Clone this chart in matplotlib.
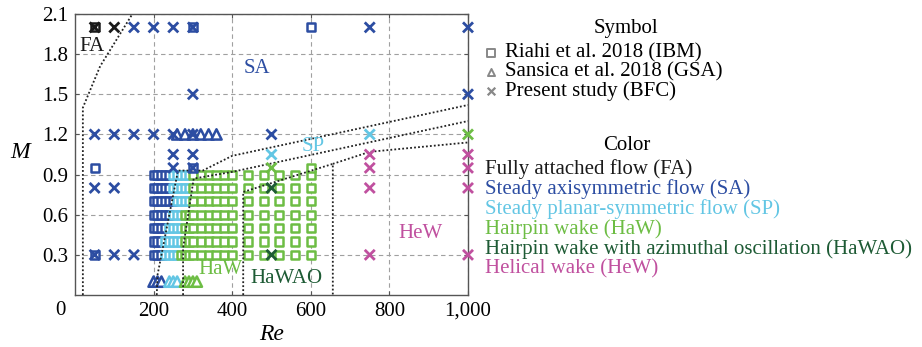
import numpy as np
import matplotlib.pyplot as plt

plt.rcParams['font.family'] = ['Liberation Serif', 'DejaVu Serif']

# regime colours
colors = {'FA': '#1a1a1a', 'SA': '#2c4da2', 'SP': '#63c6e4', 'HaW': '#6dbd44',
          'HaWAO': '#1e5b35', 'HeW': '#c0509f'}

# Riahi et al. 2018 (IBM): dense grid of Re x M
riahi_re = [200, 210, 220, 230, 240, 250, 260, 270, 280, 290, 300,
            320, 340, 360, 380, 400, 440, 480, 520, 560, 600]
riahi_m = [0.3, 0.4, 0.5, 0.6, 0.7, 0.8, 0.9]
# first Re of each row that is planar-symmetric / hairpin
riahi_sp_from = [230, 230, 240, 250, 260, 250, 250]
riahi_haw_from = [270, 280, 280, 280, 300, 300, 300]
# isolated Riahi points
riahi_extra_re = [50, 50, 50, 300, 300, 600, 600]
riahi_extra_m = [2.0, 0.95, 0.3, 2.0, 0.95, 2.0, 0.95]
riahi_extra_reg = ['FA', 'SA', 'SA', 'SA', 'SA', 'SA', 'HaW']

# Sansica et al. 2018 (GSA)
sansica_re = [200, 210, 220, 240, 250, 260, 280, 290, 300, 310,
              260, 280, 300, 320, 340, 360]
sansica_m = [0.1] * 10 + [1.2] * 6
sansica_reg = ['SA'] * 3 + ['SP'] * 3 + ['HaW'] * 4 + ['SA'] * 6

# Present study (BFC)
bfc_re = [50, 100,
          150, 200, 250, 300, 750, 1000, 300, 1000,
          50, 100, 150, 200, 250, 300, 500,
          250, 300, 250, 300, 50, 100, 50, 100, 150,
          750, 500,
          1000, 500,
          500, 500,
          750, 750, 750, 750, 1000, 1000, 1000, 1000]
bfc_m = [2.0, 2.0,
         2.0, 2.0, 2.0, 2.0, 2.0, 2.0, 1.5, 1.5,
         1.2, 1.2, 1.2, 1.2, 1.2, 1.2, 1.2,
         1.05, 1.05, 0.95, 0.95, 0.8, 0.8, 0.3, 0.3, 0.3,
         1.2, 1.05,
         1.2, 0.95,
         0.8, 0.3,
         1.05, 0.95, 0.8, 0.3, 1.05, 0.95, 0.8, 0.3]
bfc_reg = ['FA'] * 2 + ['SA'] * 24 + ['SP'] * 2 + ['HaW'] * 2 + ['HaWAO'] * 2 + ['HeW'] * 8

# regime boundaries (dotted)
bounds = [
    ([20, 20, 64, 146], [0, 1.40, 1.71, 2.1]),
    ([208, 210, 262, 325, 400, 1000], [0, 0.15, 0.93, 0.93, 1.04, 1.42]),
    ([275, 275, 302, 400, 1000], [0, 0.35, 0.87, 0.92, 1.30]),
    ([428, 428, 656, 656], [0, 0.77, 0.98, 0]),
    ([656, 750, 1000], [0.98, 1.07, 1.14]),
]

region_labels = [('FA', 43, 1.86, 'FA'), ('SA', 463, 1.69, 'SA'), ('SP', 606, 1.11, 'SP'),
                 ('HaW', 371, 0.19, 'HaW'), ('HaWAO', 539, 0.12, 'HaWAO'), ('HeW', 880, 0.46, 'HeW')]

legend_colors = [('Fully attached flow (FA)', 'FA'),
                 ('Steady axisymmetric flow (SA)', 'SA'),
                 ('Steady planar-symmetric flow (SP)', 'SP'),
                 ('Hairpin wake (HaW)', 'HaW'),
                 ('Hairpin wake with azimuthal oscillation (HaWAO)', 'HaWAO'),
                 ('Helical wake (HeW)', 'HeW')]

W, H = 922, 347
fig = plt.figure(figsize=(W / 100, H / 100), dpi=100)
ax = fig.add_axes([75 / W, 1 - 295 / H, 393 / W, 281 / H])
ax.set_xlim(0, 1000)
ax.set_ylim(0, 2.1)

ax.grid(True, color='#a0a0a0', linestyle=(0, (4, 3)), linewidth=0.8)
ax.set_axisbelow(True)

# grid squares, drawn column by column so later Re sits on top
sq_x, sq_y, sq_c = [], [], []
for re in riahi_re:
    for m, a, b in zip(riahi_m, riahi_sp_from, riahi_haw_from):
        reg = 'SA' if re < a else ('SP' if re < b else 'HaW')
        sq_x.append(re)
        sq_y.append(m)
        sq_c.append(colors[reg])
ax.scatter(sq_x, sq_y, s=34, marker='s', facecolors='white', edgecolors=sq_c,
           linewidths=1.8, zorder=3, clip_on=False)
ax.scatter(riahi_extra_re, riahi_extra_m, s=34, marker='s', facecolors='white',
           edgecolors=[colors[r] for r in riahi_extra_reg], linewidths=1.8, zorder=3, clip_on=False)

ax.scatter(sansica_re, sansica_m, s=55, marker='^', facecolors='white',
           edgecolors=[colors[r] for r in sansica_reg], linewidths=1.8, zorder=4, clip_on=False)

for xs, ys in bounds:
    ax.plot(xs, ys, color='#222222', linestyle=(0, (1, 1.2)), linewidth=1.3, zorder=5)

ax.scatter(bfc_re, bfc_m, s=52, marker='x', c=[colors[r] for r in bfc_reg],
           linewidths=2.0, zorder=6, clip_on=False)

for txt, x, y, reg in region_labels:
    ax.text(x, y, txt, color=colors[reg], fontsize=15, ha='center', va='center', zorder=7)

ax.set_xticks([200, 400, 600, 800, 1000])
ax.set_xticklabels(['200', '400', '600', '800', '1,000'])
ax.set_yticks([0.3, 0.6, 0.9, 1.2, 1.5, 1.8, 2.1])
ax.set_yticklabels(['0.3', '0.6', '0.9', '1.2', '1.5', '1.8', '2.1'])
ax.tick_params(direction='in', length=3, width=0.8, color='#555555', labelsize=15,
               top=True, right=True, pad=5)
for sp in ax.spines.values():
    sp.set_color('#555555')
    sp.set_linewidth(1.0)
ax.text(-0.038, -0.055, '0', transform=ax.transAxes, fontsize=15, ha='center', va='center')

ax.set_xlabel('Re', style='italic', fontsize=17, labelpad=2)
fig.text(20 / W, 1 - 152 / H, 'M', style='italic', fontsize=17, ha='center', va='center')

# legend: symbols
fig.text(626 / W, 1 - 28 / H, 'Symbol', fontsize=15, ha='center', va='center')
sym = [('s', 'Riahi et al. 2018 (IBM)'), ('^', 'Sansica et al. 2018 (GSA)'), ('x', 'Present study (BFC)')]
for i, (mk, label) in enumerate(sym):
    yy = 1 - (53 + 19 * i) / H
    if mk == 'x':
        ax.scatter([491 / W], [yy], s=30, marker='x', c='#888888', linewidths=1.6,
                   transform=fig.transFigure, clip_on=False)
    else:
        ax.scatter([491 / W], [yy], s=26, marker=mk, facecolors='white', edgecolors='#888888',
                   linewidths=1.4, transform=fig.transFigure, clip_on=False)
    fig.text(505 / W, yy, label, fontsize=15, ha='left', va='center')

# legend: colours
fig.text(627 / W, 1 - 145 / H, 'Color', fontsize=15, ha='center', va='center')
for i, (label, reg) in enumerate(legend_colors):
    fig.text(485 / W, 1 - (169 + 20 * i) / H, label, fontsize=15, color=colors[reg],
             ha='left', va='center')

fig.savefig('out.png', dpi=100)
